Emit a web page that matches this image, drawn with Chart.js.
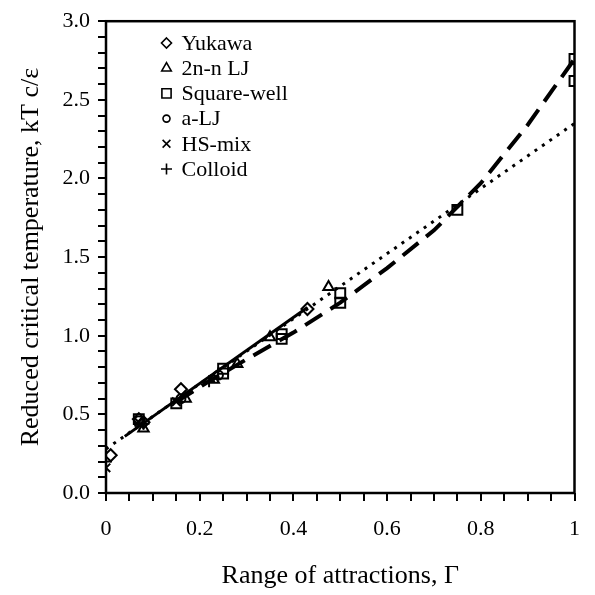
<!DOCTYPE html>
<html>
<head>
<meta charset="utf-8">
<script src="https://cdn.jsdelivr.net/npm/chart.js@4"></script>
<style>
  body { margin: 0; background: #fff; }
  canvas { display: block; }
</style>
</head>
<body>
<canvas id="myChart" width="595" height="595"></canvas>
<script>
// series (Gamma, reduced Tc)
const seriesNames = ['Yukawa', '2n-n LJ', 'Square-well', 'a-LJ', 'HS-mix', 'Colloid'];

const yukawaGamma = [0.01, 0.07, 0.08, 0.16, 0.43];
const yukawaTc = [0.24, 0.47, 0.45, 0.66, 1.17];

const ljGamma = [0.08, 0.17, 0.23, 0.28, 0.35, 0.475];
const ljTc = [0.41, 0.60, 0.72, 0.82, 0.99, 1.31];

const swGamma = [0.07, 0.15, 0.25, 0.25, 0.375, 0.375, 0.5, 0.5, 0.75, 1.0, 1.0];
const swTc = [0.47, 0.57, 0.76, 0.79, 0.98, 1.01, 1.21, 1.27, 1.80, 2.62, 2.76];

const aljGamma = [0.07, 0.16, 0.24];
const aljTc = [0.46, 0.60, 0.75];

const hsGamma = [0.0, 0.07, 0.15];
const hsTc = [0.16, 0.45, 0.58];

const colloidGamma = [0.0, 0.08, 0.22];
const colloidTc = [0.20, 0.44, 0.71];

// fitted curves
const solidGamma = [0.04, 0.43];
const solidTc = [0.36, 1.18];

const dottedGamma = [0.0, 1.0];
const dottedTc = [0.28, 2.35];

const dashedGamma = [0.15, 0.22, 0.3, 0.4, 0.5, 0.6, 0.7, 0.8, 0.9, 1.0];
const dashedTc = [0.58, 0.71, 0.85, 1.02, 1.21, 1.43, 1.67, 1.97, 2.34, 2.76];

const xTickLabels = ['0', '0.2', '0.4', '0.6', '0.8', '1'];
const yTickLabels = ['0.0', '0.5', '1.0', '1.5', '2.0', '2.5', '3.0'];

const serif = '"Liberation Serif", "Times New Roman", serif';

function pts(xs, ys) {
  return xs.map(function (x, i) { return { x: x, y: ys[i] }; });
}

const markerStyles = [
  { style: 'rectRot', r: 6, lr: 5 },
  { style: 'triangle', r: 6, lr: 5.5 },
  { style: 'rect', r: 7, lr: 6.5 },
  { style: 'circle', r: 4.5, lr: 3.5 },
  { style: 'crossRot', r: 6, lr: 5.5 },
  { style: 'cross', r: 6, lr: 5.5 },
];

const markerData = [
  pts(yukawaGamma, yukawaTc),
  pts(ljGamma, ljTc),
  pts(swGamma, swTc),
  pts(aljGamma, aljTc),
  pts(hsGamma, hsTc),
  pts(colloidGamma, colloidTc),
];

const datasets = [];

datasets.push({
  label: 'solid', data: pts(solidGamma, solidTc), showLine: true,
  borderColor: '#000', borderWidth: 3, pointRadius: 0,
});
datasets.push({
  label: 'dotted', data: pts(dottedGamma, dottedTc), showLine: true,
  borderColor: '#000', borderWidth: 3, borderDash: [3, 6], pointRadius: 0,
});
datasets.push({
  label: 'dashed', data: pts(dashedGamma, dashedTc), showLine: true,
  borderColor: '#000', borderWidth: 4, borderDash: [20, 10], pointRadius: 0,
});

seriesNames.forEach(function (name, i) {
  datasets.push({
    label: name,
    data: markerData[i],
    showLine: false,
    pointStyle: markerStyles[i].style,
    pointRadius: markerStyles[i].r,
    pointBorderWidth: 2,
    borderColor: '#000',
    backgroundColor: 'rgba(0,0,0,0)',
  });
});

// legend drawn inside plot area, top left
function drawMarker(ctx, style, x, y, r) {
  ctx.beginPath();
  if (style === 'rectRot') {
    ctx.moveTo(x, y - r); ctx.lineTo(x + r, y); ctx.lineTo(x, y + r); ctx.lineTo(x - r, y); ctx.closePath();
  } else if (style === 'triangle') {
    ctx.moveTo(x, y - r); ctx.lineTo(x + r * 0.866, y + r * 0.5); ctx.lineTo(x - r * 0.866, y + r * 0.5); ctx.closePath();
  } else if (style === 'rect') {
    var s = r * Math.SQRT1_2;
    ctx.rect(x - s, y - s, 2 * s, 2 * s);
  } else if (style === 'circle') {
    ctx.arc(x, y, r, 0, Math.PI * 2);
  } else if (style === 'crossRot') {
    var c = r * Math.SQRT1_2;
    ctx.moveTo(x - c, y - c); ctx.lineTo(x + c, y + c);
    ctx.moveTo(x + c, y - c); ctx.lineTo(x - c, y + c);
  } else if (style === 'cross') {
    ctx.moveTo(x - r, y); ctx.lineTo(x + r, y);
    ctx.moveTo(x, y - r); ctx.lineTo(x, y + r);
  }
  ctx.stroke();
}

const legendAndFrame = {
  id: 'legendAndFrame',
  afterDraw: function (chart) {
    const ctx = chart.ctx;
    const a = chart.chartArea;
    ctx.save();
    ctx.strokeStyle = '#000';
    ctx.lineWidth = 2.5;
    ctx.strokeRect(a.left, a.top, a.right - a.left, a.bottom - a.top);

    ctx.font = '22px ' + serif;
    ctx.fillStyle = '#000';
    ctx.textBaseline = 'middle';
    ctx.textAlign = 'left';
    seriesNames.forEach(function (name, i) {
      const y = 43 + i * 25.2;
      ctx.lineWidth = 1.6;
      drawMarker(ctx, markerStyles[i].style, 166.5, y, markerStyles[i].lr);
      ctx.fillText(name, 181.5, y + 1);
    });
    ctx.restore();
  }
};

function isOnStep(v, step) {
  const k = v / step;
  return Math.abs(k - Math.round(k)) < 1e-6;
}

const config = {
  type: 'scatter',
  data: { datasets: datasets },
  options: {
    responsive: false,
    animation: false,
    devicePixelRatio: 1,
    layout: { padding: { left: 0, right: 7, top: 20, bottom: 0 } },
    plugins: {
      legend: { display: false },
      tooltip: { enabled: false },
    },
    scales: {
      x: {
        type: 'linear', min: 0, max: 1,
        border: { display: false },
        grid: { drawOnChartArea: false, drawTicks: true, tickLength: 8, color: '#000', lineWidth: 2 },
        ticks: {
          stepSize: 0.05, autoSkip: false, maxRotation: 0, padding: 15, color: '#000',
          font: { family: serif, size: 22 },
          callback: function (v) {
            if (!isOnStep(v, 0.2)) return '';
            return xTickLabels[Math.round(v / 0.2)];
          },
        },
        title: {
          display: true, text: 'Range of attractions, \u0393', color: '#000',
          font: { family: serif, size: 26 }, padding: { top: 0, bottom: 3 },
        },
        afterFit: function (s) { s.height = 102; },
      },
      y: {
        type: 'linear', min: 0, max: 3,
        border: { display: false },
        grid: { drawOnChartArea: false, drawTicks: true, tickLength: 8, color: '#000', lineWidth: 2 },
        ticks: {
          stepSize: 0.1, autoSkip: false, padding: 8, color: '#000',
          font: { family: serif, size: 22 },
          callback: function (v) {
            if (!isOnStep(v, 0.5)) return '';
            return yTickLabels[Math.round(v / 0.5)];
          },
        },
        title: {
          display: true, text: 'Reduced critical temperature, kT c/\u03b5', color: '#000',
          font: { family: serif, size: 26 }, padding: { top: 16, bottom: 0 },
        },
        afterFit: function (s) { s.width = 106; },
      },
    },
  },
  plugins: [legendAndFrame],
};

const myChart = new Chart(document.getElementById('myChart'), config);
</script>
</body>
</html>
